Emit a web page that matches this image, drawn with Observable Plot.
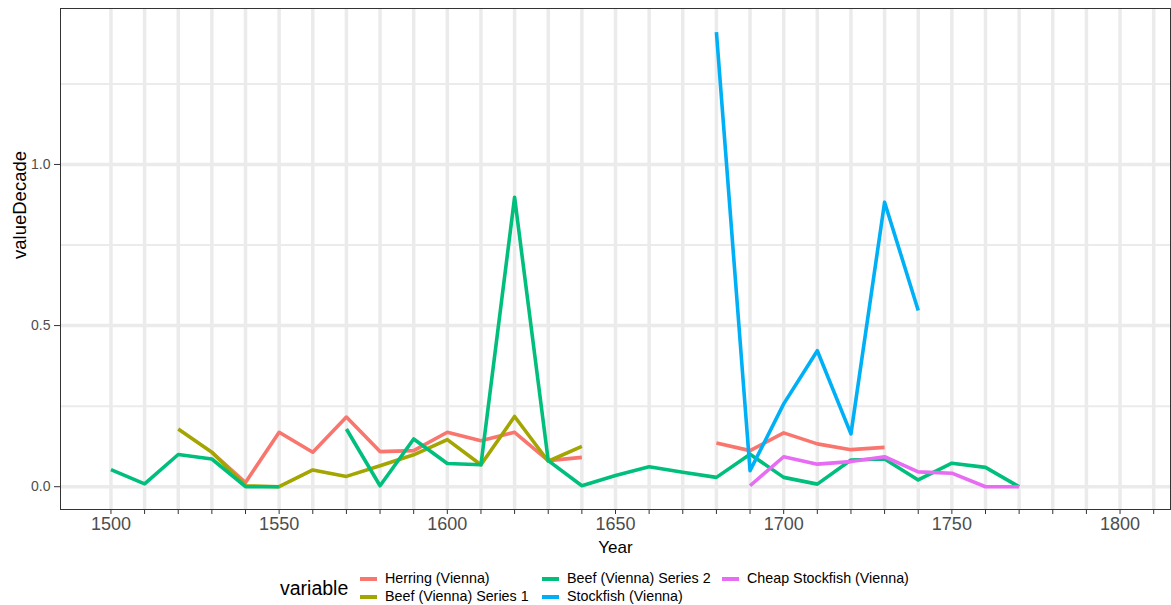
<!DOCTYPE html>
<html>
<head>
<meta charset="utf-8">
<script src="https://cdn.jsdelivr.net/npm/d3@7"></script>
<script src="https://cdn.jsdelivr.net/npm/@observablehq/plot@0.6"></script>
<style>
  html, body { margin: 0; padding: 0; background: white; }
  #wrap { position: relative; width: 1171px; height: 605px; font-family: "Liberation Sans", Arial, sans-serif; }
  #legend { position: absolute; left: 0; top: 0; width: 1171px; height: 605px; pointer-events: none; }
  .lt { position: absolute; font-size: 14.3px; color: #000; white-space: nowrap; line-height: 1; }
  .key { position: absolute; height: 3.5px; }
</style>
</head>
<body>
<div id="wrap"><div id="chart"></div><div id="legend"></div></div>
<script>
const years = [1500,1510,1520,1530,1540,1550,1560,1570,1580,1590,1600,1610,1620,1630,1640,1650,1660,1670,1680,1690,1700,1710,1720,1730,1740,1750,1760,1770];
const herring   = [null,null,null,0.107,0.013,0.169,0.107,0.216,0.109,0.112,0.169,0.143,0.169,0.081,0.091,null,null,null,0.136,0.112,0.167,0.133,0.115,0.122,null,null,null,null];
const beef1     = [null,null,0.179,0.107,0.003,0,0.052,0.032,0.065,0.099,0.146,0.068,0.218,0.079,0.125,null,null,null,null,null,null,null,null,null,null,null,null,null];
const beef2     = [0.053,0.009,0.100,0.086,0,0,null,0.179,0.003,0.148,0.072,0.068,0.898,0.081,0.003,0.035,0.062,0.045,0.029,0.101,0.029,0.008,0.083,0.086,0.021,0.073,0.060,0];
const stockfish = [null,null,null,null,null,null,null,null,null,null,null,null,null,null,null,null,null,null,1.411,0.050,0.257,0.422,0.164,0.883,0.547,null,null,null];
const cheap     = [null,null,null,null,null,null,null,null,null,null,null,null,null,null,null,null,null,null,null,0.003,0.093,0.070,0.078,0.093,0.046,0.042,0,0];

const seriesNames = ["Herring (Vienna)","Beef (Vienna) Series 1","Beef (Vienna) Series 2","Stockfish (Vienna)","Cheap Stockfish (Vienna)"];
const seriesColors = ["#F8766D","#A3A500","#00BF7D","#00B0F6","#E76BF3"];
const seriesValues = [herring, beef1, beef2, stockfish, cheap];

const gridYears = d3.range(1500, 1811, 10);
const majorY = [0, 0.5, 1.0];
const minorY = [0.25, 0.75, 1.25];

const data = [];
seriesNames.forEach((name, i) => {
  years.forEach((yr, j) => data.push({variable: name, year: yr, value: seriesValues[i][j]}));
});

const chart = Plot.plot({
  width: 1171,
  height: 560,
  marginLeft: 60,
  marginRight: 1,
  marginTop: 8,
  marginBottom: 51,
  x: {domain: [1485, 1815]},
  y: {domain: [-0.0707, 1.484]},
  color: {domain: seriesNames, range: seriesColors},
  style: {fontFamily: "'Liberation Sans', Arial, sans-serif", background: "white"},
  marks: [
    Plot.ruleX(gridYears, {stroke: "#EBEBEB", strokeWidth: 3.5}),
    Plot.ruleY(minorY, {stroke: "#EBEBEB", strokeWidth: 2}),
    Plot.ruleY(majorY, {stroke: "#EBEBEB", strokeWidth: 3.5}),
    Plot.line(data, {x: "year", y: "value", z: "variable", stroke: "variable", strokeWidth: 3.6, strokeLinejoin: "round", strokeLinecap: "butt"}),
    Plot.frame({stroke: "#333333", strokeWidth: 1}),
    Plot.axisX({ticks: gridYears, tickSize: 5, tickPadding: 3, tickFormat: d => d % 50 === 0 ? String(d) : "", fontSize: 18, stroke: "#333333", fill: "#4D4D4D", label: null}),
    Plot.axisY({ticks: majorY, tickSize: 6, tickPadding: 4, tickFormat: d3.format(".1f"), fontSize: 14, stroke: "#333333", fill: "#4D4D4D", label: null}),
    Plot.text(["Year"], {frameAnchor: "bottom", dy: 38, lineAnchor: "middle", fontSize: 17, fill: "black"}),
    Plot.text(["valueDecade"], {frameAnchor: "left", dx: -40, rotate: -90, fontSize: 18.5, fill: "black"})
  ]
});
document.getElementById("chart").appendChild(chart);

// legend (ggplot-style, two rows filled by column)
const legend = document.getElementById("legend");
const title = document.createElement("div");
title.className = "lt";
title.style.left = "280px"; title.style.top = "579px"; title.style.fontSize = "19.5px";
title.textContent = "variable";
legend.appendChild(title);
const colX = [360, 542, 722];
const rowY = [579, 597];
seriesNames.forEach((name, i) => {
  const col = Math.floor(i / 2), row = i % 2;
  const k = document.createElement("div");
  k.className = "key";
  k.style.left = colX[col] + "px"; k.style.top = (rowY[row] - 1.75) + "px";
  k.style.width = "17px"; k.style.background = seriesColors[i];
  legend.appendChild(k);
  const t = document.createElement("div");
  t.className = "lt";
  t.style.left = (colX[col] + 25) + "px"; t.style.top = (rowY[row] - 8) + "px";
  t.textContent = name;
  legend.appendChild(t);
});
</script>
</body>
</html>
